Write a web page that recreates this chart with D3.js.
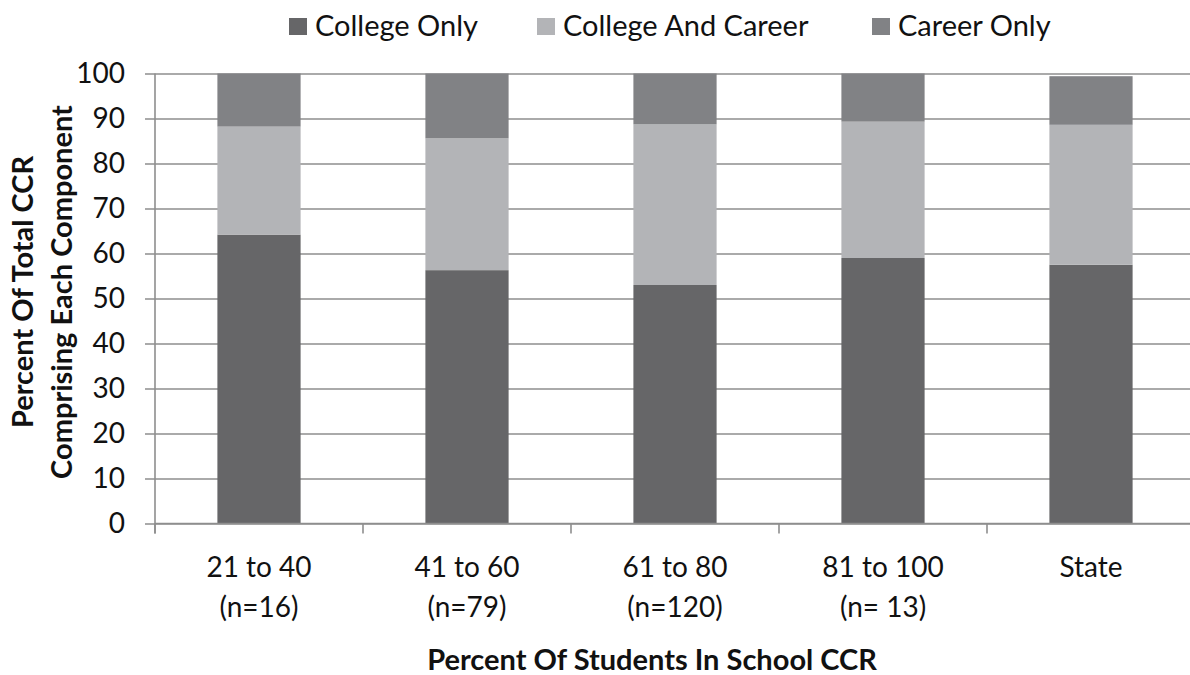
<!DOCTYPE html>
<html>
<head>
<meta charset="utf-8">
<script src="https://cdn.jsdelivr.net/npm/d3@7"></script>
<style>
  body { margin: 0; background: #fff; }
  svg { display: block; font-family: Lato, "Open Sans", sans-serif; }
</style>
</head>
<body>
<svg id="chart" width="1190" height="675"></svg>
<script>
// values
const categories = ['21 to 40', '41 to 60', '61 to 80', '81 to 100', 'State']
const countLabels = ['(n=16)', '(n=79)', '(n=120)', '(n= 13)', '']
const collegeOnly = [64.2, 56.3, 53.0, 59.0, 57.5]
const collegeAndCareer = [24.0, 29.3, 35.7, 30.3, 31.1]
const careerOnly = [11.8, 14.4, 11.3, 10.7, 10.8]
const seriesNames = ['College Only', 'College And Career', 'Career Only']
const yTicks = [0, 10, 20, 30, 40, 50, 60, 70, 80, 90, 100]

const colors = ['#666668', '#b3b4b7', '#818285']

const margin = { top: 73.5, left: 155 }
const plotW = 1040
const plotH = 450

const svg = d3.select('#chart')

const rows = categories.map((c, i) => ({
  cat: c,
  'College Only': collegeOnly[i],
  'College And Career': collegeAndCareer[i],
  'Career Only': careerOnly[i]
}))

const stacked = d3.stack().keys(seriesNames)(rows)

const x = d3.scaleBand()
  .domain(categories)
  .range([0, plotW])
  .paddingInner(0.6)
  .paddingOuter(0.3)

const y = d3.scaleLinear()
  .domain([0, 100])
  .range([plotH, 0])

const g = svg.append('g')
  .attr('transform', `translate(${margin.left},${margin.top})`)

// gridlines + y axis
const yAxis = g.append('g')
  .call(d3.axisLeft(y).tickValues(yTicks).tickSize(-plotW).tickSizeOuter(0).tickPadding(30))
yAxis.select('.domain').remove()
yAxis.selectAll('.tick line')
  .attr('x1', -10)
  .attr('stroke', '#8e8e8e')
  .attr('stroke-width', 1.6)
yAxis.selectAll('.tick text')
  .attr('font-size', 28)
  .attr('font-family', 'Lato, sans-serif')
  .attr('fill', '#111')

// bars
g.selectAll('g.layer')
  .data(stacked)
  .join('g')
  .attr('class', 'layer')
  .attr('fill', (d, i) => colors[i])
  .selectAll('rect')
  .data(d => d)
  .join('rect')
  .attr('x', d => x(d.data.cat))
  .attr('y', d => y(d[1]))
  .attr('width', x.bandwidth())
  .attr('height', d => y(d[0]) - y(d[1]))

// y axis line
g.append('line')
  .attr('x1', 0).attr('x2', 0)
  .attr('y1', 0).attr('y2', plotH + 10)
  .attr('stroke', '#8e8e8e')
  .attr('stroke-width', 1.6)

// x axis line and category dividers
g.append('line')
  .attr('x1', 0).attr('x2', plotW)
  .attr('y1', plotH).attr('y2', plotH)
  .attr('stroke', '#8e8e8e')
  .attr('stroke-width', 1.6)

const step = plotW / categories.length
g.selectAll('line.divider')
  .data(d3.range(categories.length + 1))
  .join('line')
  .attr('class', 'divider')
  .attr('x1', d => d * step).attr('x2', d => d * step)
  .attr('y1', plotH).attr('y2', plotH + 10)
  .attr('stroke', '#8e8e8e')
  .attr('stroke-width', 1.6)

// category labels
const labels = g.selectAll('text.cat')
  .data(categories)
  .join('text')
  .attr('class', 'cat')
  .attr('text-anchor', 'middle')
  .attr('font-size', 28)
  .attr('fill', '#111')
  .attr('x', d => x(d) + x.bandwidth() / 2)
  .attr('y', plotH + 53.5)

labels.append('tspan').text(d => d)
labels.append('tspan')
  .attr('x', d => x(d) + x.bandwidth() / 2)
  .attr('dy', 40)
  .text((d, i) => countLabels[i])

// axis titles
svg.append('text')
  .attr('x', 652)
  .attr('y', 670)
  .attr('text-anchor', 'middle')
  .attr('font-size', 29)
  .attr('font-weight', 'bold')
  .attr('fill', '#111')
  .text('Percent Of Students In School CCR')

const yTitle = svg.append('text')
  .attr('transform', 'translate(0,292) rotate(-90)')
  .attr('text-anchor', 'middle')
  .attr('font-size', 29)
  .attr('font-weight', 'bold')
  .attr('fill', '#111')
yTitle.append('tspan').attr('x', 0).attr('y', 33).text('Percent Of Total CCR')
yTitle.append('tspan').attr('x', 0).attr('y', 72).text('Comprising Each Component')

// legend
const legendX = [289, 537, 872]
const legend = svg.selectAll('g.legend')
  .data(seriesNames)
  .join('g')
  .attr('class', 'legend')
  .attr('transform', (d, i) => `translate(${legendX[i]},18)`)

legend.append('rect')
  .attr('width', 18)
  .attr('height', 17)
  .attr('fill', (d, i) => colors[i])

legend.append('text')
  .attr('x', 26)
  .attr('y', 18)
  .attr('font-size', 29)
  .attr('fill', '#111')
  .text(d => d)
</script>
</body>
</html>
